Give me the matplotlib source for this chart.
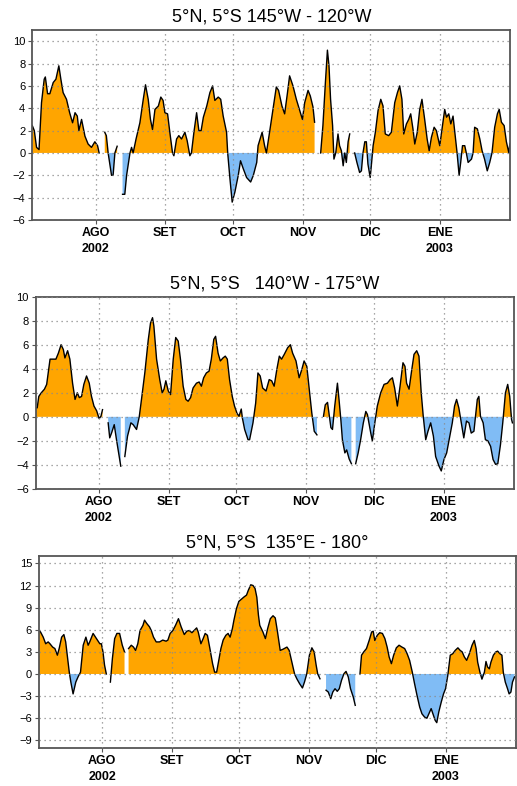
import numpy as np
import pandas as pd
import matplotlib
matplotlib.use('Agg')
import matplotlib.pyplot as plt

plt.rcParams['font.family'] = ['Liberation Sans', 'DejaVu Sans']

nan = np.nan

# days after 2002-07-01 and anomaly values (nan = missing data)
days1 = [2.9, 3.8, 4.8, 5.9, 7.0, 8.2, 8.7, 9.7, 10.7, 12.2, 13.4, 14.7, 15.6, 16.6, 18.1, 19.5, 20.8, 21.9,
         22.9, 23.6, 24.8, 26.3, 27.7, 29.2, 30.7, 31.9, 32.6, 33.8, 35.1, 35.8, 36.6, 38.1, 38.8, 39.6, 40.6,
         41.8, 43.0, 44.0, 44.8, 46.3, 47.0, 47.7, 49.0, 50.7, 52.2, 53.2, 54.4, 55.4, 56.3, 57.4, 58.9, 60.0,
         61.0, 61.8, 63.0, 64.0, 65.2, 65.8, 67.0, 68.0, 69.2, 70.7, 71.7, 72.9, 73.6, 74.7, 75.9, 76.9, 77.9,
         78.9, 80.4, 81.8, 83.0, 84.0, 85.5, 86.6, 87.7, 89.2, 89.7, 90.7, 91.7, 92.9, 94.4, 95.4, 96.6, 98.1,
         99.9, 101.1, 102.6, 103.2, 105.0, 106.1, 106.9, 108.3, 109.8, 111.3, 112.3, 113.8, 115.0, 116.2,
         117.2, 118.7, 120.2, 121.7, 122.9, 123.9, 125.4, 126.4, 127.6, 128.3, 129.6, 131.0, 132.0, 133.1,
         134.0, 134.7, 135.4, 136.3, 136.9, 137.7, 138.7, 139.4, 140.2, 141.0, 141.7, 142.4, 143.2, 143.9,
         145.0, 146.1, 147.1, 148.3, 149.1, 149.8, 150.6, 151.3, 152.0, 153.0, 153.5, 154.3, 155.3, 156.5,
         157.7, 158.7, 159.7, 161.2, 162.4, 163.9, 165.1, 166.1, 167.1, 167.9, 169.1, 170.1, 171.0, 172.0,
         172.8, 173.9, 175.0, 176.0, 177.2, 178.3, 179.2, 180.2, 181.4, 182.4, 183.9, 184.6, 186.1, 186.9,
         187.9, 188.8, 189.8, 190.9, 191.6, 192.5, 193.2, 194.0, 195.0, 195.7, 196.5, 198.0, 198.7, 199.4,
         200.6, 201.7, 202.7, 203.8, 205.0, 206.1, 207.1, 208.3, 209.5, 210.3, 211.3, 212.5, 213.5, 214.6,
         215.0]
vals1 = [2.45, 2.0, 0.5, 0.3, 4.5, 6.6, 6.8, 5.3, 5.3, 6.3, 6.6, 7.8, 6.6, 5.4, 4.8, 3.6, 2.7, 3.6,
         3.3, 2.0, 3.0, 1.5, 0.8, 0.5, 1.0, 0.65, 0.0, nan, 1.85, 1.55, 0.0, -2.0, -2.0, 0.0, 0.6,
         nan, -3.7, -3.7, -2.0, 0.0, 0.5, 0.0, 1.25, 2.7, 4.8, 6.1, 4.8, 3.0, 2.1, 3.9, 4.2, 5.0,
         4.7, 3.6, 3.5, 1.85, 0.0, -0.25, 1.25, 1.55, 1.25, 1.85, 1.1, -0.25, 0.0, 1.85, 3.6, 2.0, 2.0,
         3.2, 4.2, 5.4, 6.0, 4.7, 5.0, 4.8, 3.3, 1.85, 0.0, -2.3, -4.4, -3.5, -2.0, -0.7, -1.4, -2.2,
         -2.6, -2.0, -0.85, 0.65, 1.85, 0.65, 0.0, 1.85, 3.9, 5.9, 5.6, 4.2, 3.5, 5.3,
         6.9, 6.0, 4.8, 3.8, 3.0, 4.5, 5.6, 5.1, 4.1, 2.75, nan, 0.0, 2.45, 6.3,
         9.2, 7.8, 4.8, 2.45, -0.55, 0.0, 1.7, 0.65, 0.2, -1.15, 0.0, -0.85, 1.0, 1.7,
         nan, 0.0, -0.85, -1.75, -1.6, 0.0, 1.0, 1.0, -1.0, -2.2, -1.15, 0.65, 1.85, 3.8,
         4.8, 4.2, 1.7, 1.55, 1.85, 4.5, 5.4, 6.0, 4.8, 1.7, 2.6, 3.0, 3.5, 2.15,
         0.8, 1.85, 3.9, 4.8, 3.0, 1.25, 0.2, 1.4, 2.3, 2.0, 0.65, 1.7, 3.9, 3.2,
         3.5, 2.6, 3.3, 1.25, 0.0, -2.0, -0.85, 0.65, 0.65, 0.0, -0.85, -0.55, 0.0, 2.3,
         2.15, 1.25, 0.2, -0.55, -1.6, -0.85, 0.0, 2.3, 3.5, 3.9, 2.75, 2.45, 1.0, 0.0,
         0.8]

days2 = [2.9, 3.6, 4.3, 5.4, 6.8, 7.8, 9.3, 10.8, 11.9, 13.0, 14.2, 15.2, 15.9, 17.1, 18.1, 19.3, 20.4,
         21.4, 22.3, 23.3, 24.3, 25.5, 26.7, 27.7, 28.8, 30.0, 31.1, 31.9, 32.6, 33.8, 35.1, 35.8, 36.6,
         37.8, 38.8, 40.0, 40.7, 41.5, 42.5, 43.7, 45.2, 46.2, 47.7, 48.9, 49.9, 51.4, 52.9, 53.9, 54.8,
         55.4, 56.6, 58.0, 59.1, 59.9, 60.7, 61.8, 62.8, 64.0, 65.1, 66.2, 67.2, 68.4, 69.6, 70.6, 71.7,
         72.8, 74.3, 75.5, 76.5, 77.5, 78.7, 79.9, 80.9, 82.0, 82.8, 83.9, 84.9, 86.1, 87.1, 88.0, 89.0,
         90.2, 91.2, 92.3, 93.2, 94.2, 94.7, 95.7, 97.2, 97.9, 99.4, 100.6, 101.6, 102.6, 103.7, 105.2,
         106.6, 107.7, 108.8, 110.0, 111.1, 112.1, 113.3, 114.8, 116.0, 117.0, 118.5, 119.9, 121.1, 122.1,
         123.3, 124.4, 125.5, 126.6, 127.8, 129.0, 130.7, 131.5, 132.5, 133.2, 134.0, 134.7, 135.7, 136.9,
         137.6, 138.4, 139.1, 140.2, 141.0, 142.1, 143.1, 144.0, 145.0, 146.1, 147.2, 148.4, 149.5, 150.2,
         151.7, 152.4, 153.5, 154.6, 156.1, 157.6, 159.1, 160.3, 161.3, 162.3, 163.5, 164.7, 166.0, 166.9,
         167.6, 168.7, 169.7, 170.9, 172.1, 173.1, 174.1, 175.0, 176.1, 177.1, 178.3, 179.5, 180.5, 182.0,
         183.0, 184.2, 185.4, 186.4, 187.9, 188.9, 189.8, 190.8, 191.9, 193.0, 194.2, 195.3, 196.3, 197.5,
         198.2, 199.0, 199.7, 200.4, 201.6, 202.6, 203.7, 204.9, 206.0, 207.1, 208.1, 209.3, 210.3, 211.5,
         212.5, 213.4, 214.2, 214.6]
vals2 = [0.75, 0.75, 1.7, 2.0, 2.3, 2.7, 4.8, 4.8, 4.8, 5.3, 6.0, 5.6, 4.9, 5.5, 4.8, 2.8, 1.45,
         2.0, 1.6, 1.7, 2.7, 3.4, 2.8, 1.7, 0.9, 0.5, -0.15, 0.05, 0.6, nan, -0.5, -1.75, -1.35,
         -0.65, -1.9, -3.3, -4.1, nan, -3.3, -1.6, -0.5, -0.65, -1.05, 0.0, 1.45, 3.7, 6.4, 7.8, 8.25,
         7.55, 4.8, 3.1, 2.0, 2.3, 3.0, 2.15, 1.85, 4.8, 6.6, 6.3, 4.8, 2.55, 1.45, 1.3, 1.6,
         2.4, 2.8, 2.9, 2.55, 3.25, 3.65, 3.8, 4.8, 6.45, 6.7, 5.3, 4.65, 4.9, 5.05, 4.8, 3.1,
         1.7, 0.9, 0.3, 0.05, 0.65, -0.1, -1.05, -1.9, -1.9, -0.5, 1.15, 3.65, 3.4, 2.4, 2.15,
         3.1, 3.0, 2.55, 3.95, 5.05, 4.8, 5.2, 5.75, 6.0, 5.3, 4.65, 3.25, 3.95, 4.65,
         4.2, 2.3, 0.35, -1.2, -1.5, nan, 0.05, 1.0, 1.2, 0.2, -0.9, -1.05, 0.9, 2.8,
         1.45, -0.2, -1.9, -3.0, -2.75, -3.5, -3.9, nan, -3.9, -3.0, -1.9, -0.5, 0.45, 0.2,
         -1.35, -2.0, -0.5, 0.9, 2.0, 2.7, 2.8, 3.1, 3.25, 2.4, 0.9, 2.55, 4.5, 4.2,
         2.8, 2.3, 3.65, 5.2, 5.5, 5.05, 2.0, 0.05, -1.9, -1.2, -0.5, -1.6, -3.3, -4.1,
         -4.5, -3.55, -3.0, -2.0, -0.5, 0.9, 1.45, 0.75, -0.5, -1.75, -0.35, -0.5, -1.35, -1.2,
         0.05, 1.45, 1.7, 0.05, -0.5, -1.9, -2.0, -2.45, -3.55, -3.95, -3.9, -2.3, -0.5, 2.0,
         2.7, 1.7, -0.2, -0.5]

days3 = [2.9, 3.6, 4.8, 5.9, 7.0, 7.8, 9.0, 10.0, 11.1, 11.9, 13.0, 14.0, 14.8, 15.5, 16.4, 17.1, 18.1,
         19.3, 20.3, 21.4, 22.6, 23.8, 24.8, 25.5, 27.0, 28.5, 30.0, 30.7, 31.4, 32.1, 32.9, 33.5, 34.7,
         35.6, 36.6, 37.6, 38.8, 40.0, 41.0, 41.9, 42.8, 44.0, 45.0, 45.9, 46.9, 47.9, 49.2, 49.9, 50.9,
         52.1, 52.9, 53.9, 55.1, 56.6, 58.0, 59.5, 60.3, 61.3, 62.5, 63.7, 65.0, 66.2, 67.6, 68.7, 69.8,
         71.0, 72.0, 73.1, 73.8, 75.0, 76.0, 76.9, 77.9, 79.0, 80.2, 81.1, 82.0, 82.8, 83.9, 84.9, 86.1,
         87.1, 88.0, 89.0, 89.7, 90.8, 91.9, 93.2, 94.2, 95.3, 96.1, 97.2, 98.2, 99.1, 99.9, 100.6, 101.2,
         102.6, 103.7, 104.7, 105.9, 107.1, 108.1, 109.1, 110.3, 111.5, 113.3, 114.3, 115.5, 116.7, 117.7,
         118.9, 120.2, 121.1, 122.1, 123.3, 124.4, 125.4, 126.3, 127.0, 128.0, 129.4, 130.7, 131.7, 132.8,
         133.7, 134.7, 135.7, 136.6, 137.6, 138.7, 139.6, 140.6, 141.6, 142.8, 143.7, 144.8, 145.8, 146.5,
         147.5, 148.7, 149.9, 151.0, 151.7, 152.4, 153.5, 154.6, 155.8, 156.9, 157.9, 158.8, 159.8, 160.8,
         162.0, 163.2, 164.5, 165.7, 166.8, 167.9, 169.1, 170.1, 171.2, 172.4, 173.4, 174.6, 175.6, 176.5,
         177.5, 178.3, 179.3, 180.0, 180.9, 182.0, 183.0, 183.9, 184.9, 186.0, 187.1, 188.2, 189.4, 190.4,
         191.3, 192.3, 193.3, 194.5, 195.7, 196.7, 197.5, 198.2, 199.2, 200.1, 201.2, 201.9, 202.6, 203.4,
         204.1, 205.2, 206.3, 207.1, 208.1, 209.0, 209.6, 210.5, 211.5, 212.2, 213.0, 213.7, 214.6]
vals3 = [5.9, 5.7, 5.0, 4.1, 4.35, 4.1, 3.65, 3.45, 2.55, 3.45, 5.0, 5.35, 4.35, 2.55, 0.25, -1.1, -2.7,
         -1.1, -0.4, 0.25, 3.9, 5.0, 3.9, 4.35, 5.5, 4.8, 4.1, 4.1, 3.0, 1.2, 0.0, nan, -1.1,
         2.1, 4.8, 5.5, 5.5, 3.9, 3.0, nan, 3.45, 3.9, 3.65, 3.2, 4.1, 5.9, 6.6, 7.3, 6.85,
         6.4, 5.9, 5.0, 4.35, 4.35, 4.6, 4.45, 4.6, 5.5, 5.9, 6.6, 7.5, 6.4, 5.35, 5.8, 5.9,
         5.6, 5.9, 6.25, 5.7, 4.1, 4.8, 5.5, 5.25, 3.45, 1.4, 0.25, 0.25, 1.6, 3.45, 4.6, 5.25,
         5.5, 5.0, 6.15, 7.3, 8.85, 9.85, 10.2, 10.45, 10.7, 11.35, 12.1, 12.0, 11.6, 10.4, 8.0, 6.6,
         5.7, 4.8, 6.15, 7.5, 7.9, 7.6, 5.7, 3.2, 3.35, 3.65, 3.2, 1.6, 0.0, -0.65,
         -1.3, -1.9, -1.1, 0.0, 2.55, 3.55, 3.0, 1.2, 0.0, -0.65, nan, -2.2, -2.45, -3.35,
         -2.45, -2.0, -2.35, -2.0, -0.85, 0.05, 0.35, -0.4, -2.0, -3.1, -4.25, nan, 0.0, 2.55,
         3.0, 3.45, 4.55, 5.7, 5.8, 4.55, 5.25, 5.6, 5.5, 4.8, 3.65, 2.3, 1.4, 2.55,
         3.55, 3.9, 3.65, 3.45, 2.75, 1.85, 0.25, -1.3, -2.9, -4.5, -5.4, -5.85, -6.0, -5.4,
         -4.7, -5.4, -6.3, -6.6, -5.15, -3.8, -2.7, -2.0, -0.2, 2.55, 2.75, 3.2, 3.55, 3.2,
         3.0, 2.3, 1.85, 2.75, 3.9, 4.55, 3.45, 1.6, 0.25, -0.7, 0.25, 1.7, 0.95, 0.7,
         1.6, 2.55, 3.0, 3.1, 2.75, 2.55, 0.25, -1.1, -2.0, -2.7, -2.45, -1.1, -0.4]

titles = ['5°N, 5°S 145°W - 120°W', '5°N, 5°S   140°W - 175°W', '5°N, 5°S  135°E - 180°']
month_labels = ['AGO\n2002', 'SET', 'OCT', 'NOV', 'DIC', 'ENE\n2003']
month_starts = ['2002-08-01', '2002-09-01', '2002-10-01', '2002-11-01', '2002-12-01', '2003-01-01']
ylims = [(-6, 11), (-6, 10), (-10, 16)]
yticks = [np.arange(-6, 11, 2), np.arange(-6, 11, 2), np.arange(-9, 16, 3)]

orange = '#FFA500'
blue = '#80BCF5'
start = pd.Timestamp('2002-07-01')

fig = plt.figure(figsize=(5.17, 7.86), dpi=100)
rects = [[0.0625, 0.7201, 0.9246, 0.2417],
         [0.069, 0.3779, 0.925, 0.2447],
         [0.0754, 0.0487, 0.9226, 0.2439]]

for i, (d, v) in enumerate([(days1, vals1), (days2, vals2), (days3, vals3)]):
    ax = fig.add_axes(rects[i])
    x = start + pd.to_timedelta(np.array(d), unit='D')
    y = np.array(v, dtype=float)
    with np.errstate(invalid='ignore'):
        ax.fill_between(x, y, 0, where=y >= 0, interpolate=True, color=orange, lw=0)
        ax.fill_between(x, y, 0, where=y <= 0, interpolate=True, color=blue, lw=0)
    ax.plot(x, y, color='black', lw=1.0)

    ax.set_xlim(pd.Timestamp('2002-07-03 22:00'), pd.Timestamp('2003-02-01 06:00'))
    ax.set_ylim(*ylims[i])
    ax.set_yticks(yticks[i])
    ax.set_yticklabels([str(t).replace('-', '\u2212') for t in yticks[i]], fontsize=8)
    ax.set_xticks(pd.to_datetime(month_starts))
    ax.set_xticklabels(month_labels, fontsize=9, fontweight='bold', linespacing=1.45)
    ax.tick_params(axis='both', length=3, width=0.8, color='#555555', pad=2)
    ax.grid(True, color='#8a8a8a', linestyle=(0, (1, 3)), lw=0.9, zorder=5)
    ax.set_axisbelow(False)
    for s in ax.spines.values():
        s.set_color('#555555')
        s.set_linewidth(1.3)
    ax.set_title(titles[i], fontsize=13, pad=6)

plt.savefig('out.png', dpi=100)
